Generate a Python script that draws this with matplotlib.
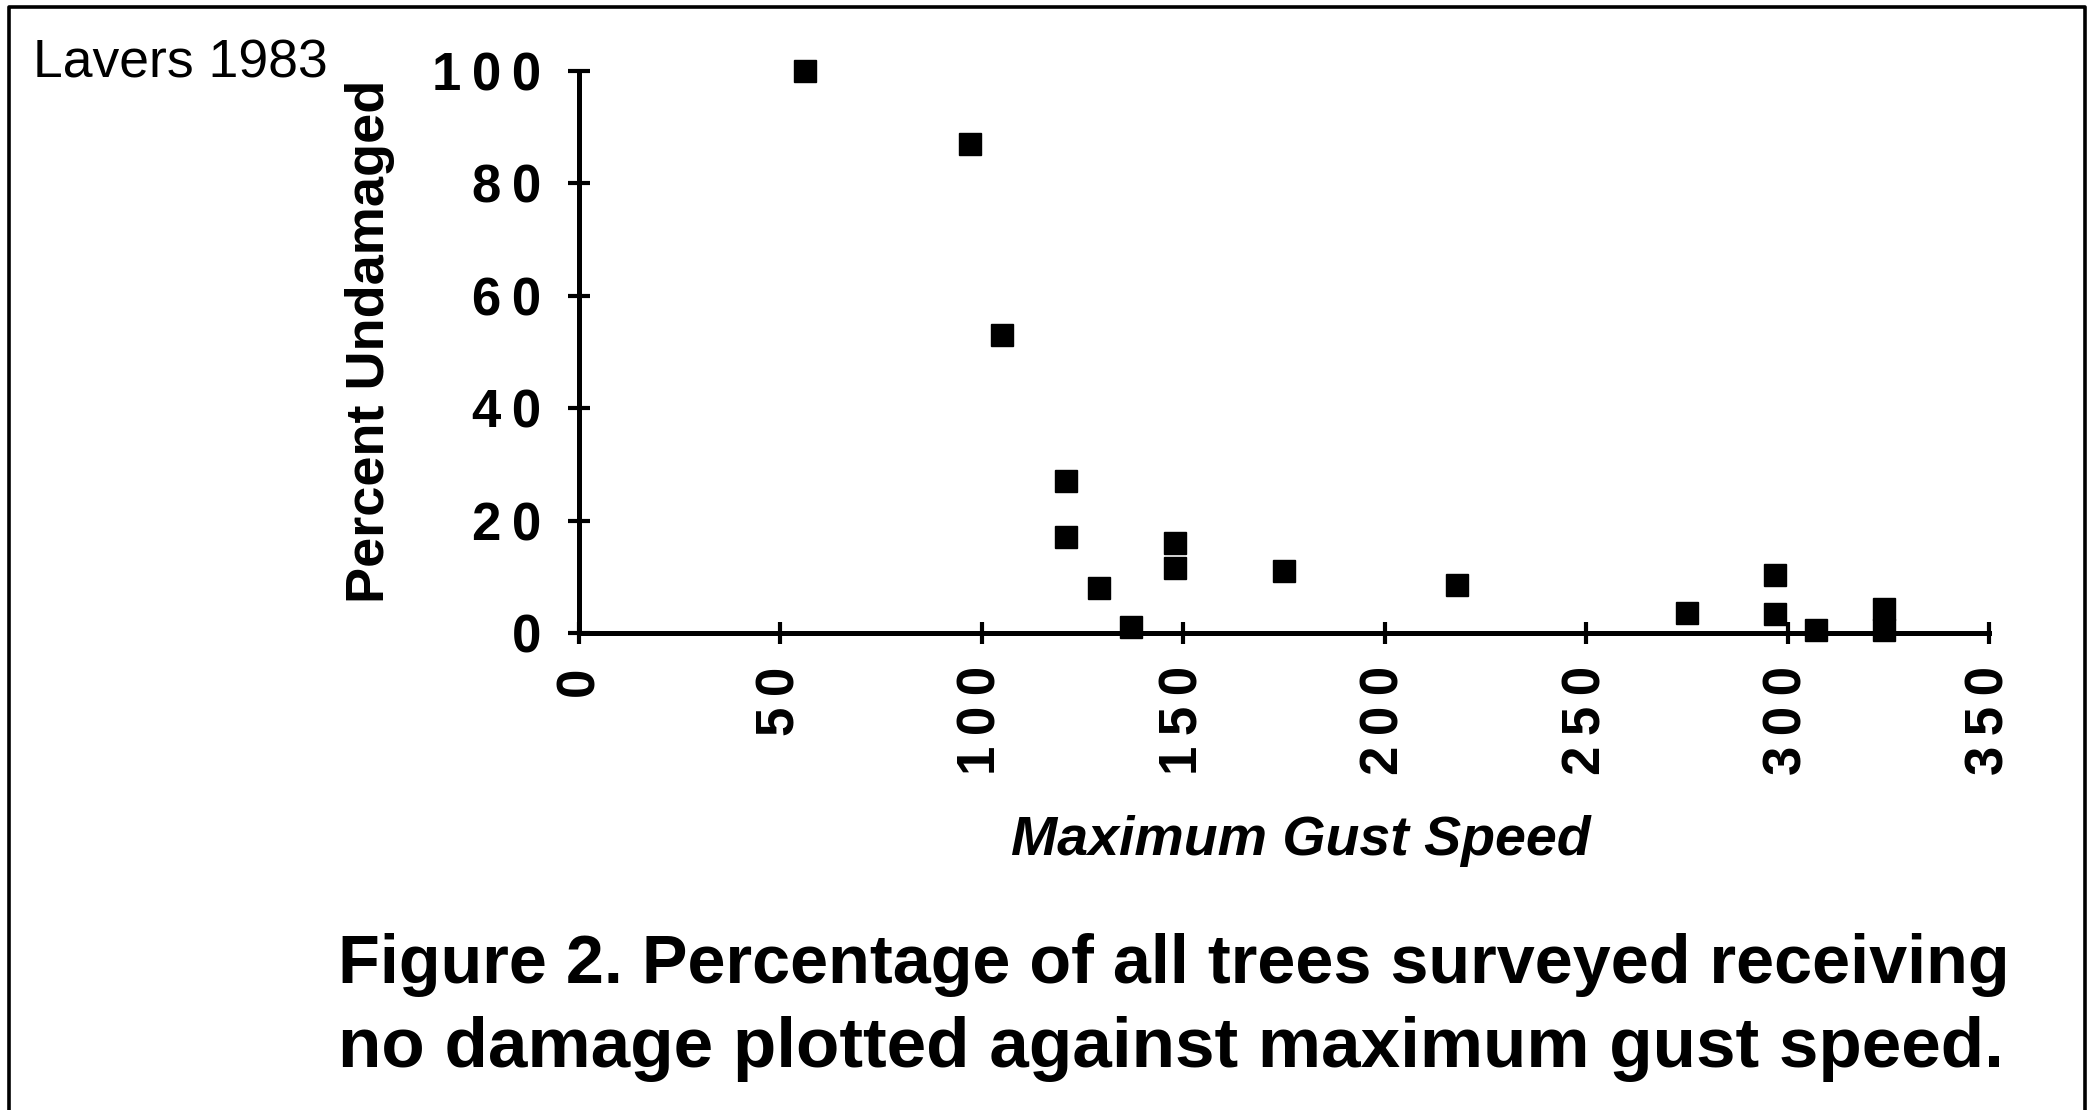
#!/usr/bin/env python3
"""Lavers 1983, Fig. 2 -- percent of trees undamaged vs maximum gust speed."""
import matplotlib
matplotlib.use("Agg")
import matplotlib.pyplot as plt
from matplotlib.lines import Line2D
from matplotlib.ticker import FuncFormatter

# values
gust_speed = [56, 97, 105, 121, 121, 129, 137, 148, 148, 175, 218, 275, 297, 297, 307, 324, 324]
pct_undamaged = [100, 87, 53, 27, 17, 8, 1, 16, 11.5, 11, 8.5, 3.5, 10.3, 3.3, 0.5, 4.3, 0.5]

x_ticks = [0, 50, 100, 150, 200, 250, 300, 350]
y_ticks = [0, 20, 40, 60, 80, 100]

source_note = "Lavers 1983"
x_title = "Maximum Gust Speed"
y_title = "Percent Undamaged"
caption = ["Figure 2. Percentage of all trees surveyed receiving",
           "no damage plotted against maximum gust speed."]

W, H, DPI = 2088, 1110, 100
FAMILY = ["Liberation Sans", "DejaVu Sans"]
plt.rcParams["font.family"] = FAMILY

fig = plt.figure(figsize=(W / DPI, H / DPI), dpi=DPI, facecolor="white")
# axes box in pixels: x 0..350 -> 579..1989, y 0..100 -> 633..71
ax = fig.add_axes([579 / W, 1 - 633 / H, 1410 / W, 562 / H])

ax.plot(gust_speed, pct_undamaged, ls="none", marker="s", ms=15.5,
        color="black", mec="black", clip_on=False, zorder=3)

ax.set_xlim(0, 350)
ax.set_ylim(0, 100)
for side in ("top", "right"):
    ax.spines[side].set_visible(False)
for side in ("left", "bottom"):
    ax.spines[side].set_linewidth(3.6)

ax.set_xticks(x_ticks)
ax.set_yticks(y_ticks)
# the scan has loosely tracked digits -> thin space between them
spaced = FuncFormatter(lambda v, _: "\u2009".join(str(int(round(v)))))
ax.xaxis.set_major_formatter(spaced)
ax.yaxis.set_major_formatter(spaced)
ax.tick_params(direction="inout", length=16, width=3, labelsize=38)
ax.tick_params(axis="x", labelrotation=90, pad=16)
ax.tick_params(axis="y", pad=19.5)
for lab in ax.get_xticklabels() + ax.get_yticklabels():
    lab.set_fontweight("bold")

ax.set_xlabel(x_title, fontsize=40, fontweight="bold", fontstyle="italic")
ax.xaxis.set_label_coords(0.512, -0.395)
ax.xaxis.label.set_va("baseline")
ax.set_ylabel(y_title, fontsize=39, fontweight="bold")
ax.yaxis.set_label_coords(-0.138, 0.519)
ax.yaxis.label.set_va("baseline")

fig.text(33 / W, 1 - 77 / H, source_note, fontsize=38.5, va="baseline")

# caption: each line sized to span the same width as in the scan
r = fig.canvas.get_renderer()
for txt, base, span in zip(caption, (983, 1067), (1668, 1662)):
    t = fig.text(338 / W, 1 - base / H, txt, fontweight="bold",
                 fontsize=40, va="baseline")
    w0 = t.get_window_extent(r).width
    t.set_fontsize(40 * span / w0)

# frame around the figure (bottom edge falls outside the picture)
fig.add_artist(Line2D([9 / W, 9 / W, 2085 / W, 2085 / W], [0, 1 - 7 / H, 1 - 7 / H, 0],
                      transform=fig.transFigure, color="black", lw=2.6))

fig.savefig("out.png", dpi=DPI, facecolor="white")
